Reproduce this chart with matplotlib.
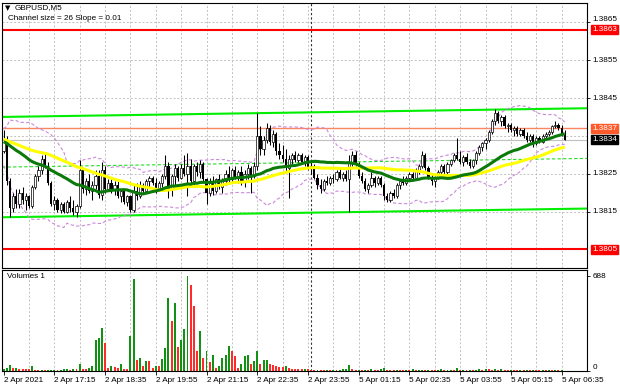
import numpy as np
import pandas as pd
import matplotlib
matplotlib.use("Agg")
import matplotlib.pyplot as plt
from matplotlib.transforms import blended_transform_factory, ScaledTranslation

# ---------------- data (prices in pips above BASE) ----------------
BASE = 1.3800
PIP = 0.0001

prior_closes = [34, 35, 36, 35, 34, 35, 36, 35, 34, 35, 36, 37, 36, 35, 34, 35, 36, 35, 34, 33, 34,
                35, 36, 37, 36, 35, 36, 37, 38, 37, 36, 35, 36, 37, 36, 35,
                31, 30, 29, 30, 31, 32, 31, 30, 29, 30, 31, 32, 31, 30.5]

opens = [31, 34, 23, 16, 19, 17, 20, 18, 19, 16.5, 21.5, 24.5, 26, 29, 27, 22.5, 17, 18, 15.5, 17,
         15, 17.5, 16, 15, 16.5, 26, 21, 23, 20.5, 22, 24.5, 19.5, 26, 21, 22.5, 21, 22, 19, 20.5, 17.5,
         19, 15.5, 20.5, 19, 22, 20.5, 23, 24, 22.5, 21, 22.5, 24.5, 27, 21, 24.5, 26.5, 24, 26.5, 25, 27,
         23, 27, 25.5, 27.5, 23.5, 20, 22.5, 20.5, 23.5, 21.5, 23, 25, 23.5, 26, 24, 25.5, 23, 25, 26.5, 24.5,
         27, 35, 31.5, 34, 37, 33.5, 35.5, 31, 30, 29, 26.5, 29, 30, 28.5, 30, 28, 29.5, 26.5, 27, 24,
         22, 21, 23, 22.5, 24, 23.5, 25.5, 24, 25, 23.5, 28, 30, 27.5, 24.5, 23, 21, 22, 24, 22.5, 24,
         22, 19, 18, 20, 19, 22, 23, 22.5, 24, 25, 24, 26, 27, 30, 26.5, 24, 23, 24, 25.5, 27,
         25.5, 27.5, 28.5, 30, 29, 28, 29.5, 28, 27, 28.5, 30.5, 32, 33, 34, 36, 39, 41, 39, 40, 37.5,
         38, 36.5, 37, 35.5, 36.5, 35, 34, 35, 33, 34.5, 33.5, 35, 35.5, 36, 37.5, 38, 37, 35.5]
highs = [36.5, 35, 24, 20, 21, 21, 21.5, 20, 19.5, 22, 25, 27, 30, 30.5, 28, 23, 19, 18.5, 17.5, 17.5,
         18, 19, 18, 17, 28.5, 26.5, 24, 25, 23, 26, 26, 28, 27, 23.5, 24, 23, 23, 21, 21, 19.5,
         19.5, 22, 22.5, 23, 22.5, 23.5, 24.5, 24.5, 24, 23, 25, 30, 28, 25, 27.5, 27, 27.5, 30, 30.5, 29,
         27.5, 28, 28.5, 28, 24, 24, 24.5, 24, 25, 24, 26, 27, 26.5, 27, 26, 27, 26, 27.5, 27, 28,
         41, 37.5, 35, 38.5, 38, 36.5, 36, 33, 32.5, 31.5, 30, 30.5, 31, 30.5, 30.5, 30, 30, 28, 27.5, 25,
         23.5, 23.5, 24.5, 24.5, 25, 26, 26.5, 25.5, 26, 30, 31, 31, 28, 25.5, 24, 22.5, 25.5, 24.5, 24.5, 24.5,
         22.5, 20, 20.5, 21, 22.5, 23.5, 24.5, 24.5, 25.5, 25.5, 26.5, 27.5, 31, 30.5, 27, 25, 24.5, 26, 27.5, 27.5,
         28, 29, 30.5, 34.5, 31, 30, 30.5, 29, 29, 31, 32.5, 33.5, 34.5, 36.5, 39.5, 42, 41.5, 40.5, 40.5, 38.5,
         38.5, 37.5, 37.5, 37, 37, 36, 35.5, 35.5, 35, 35, 35.5, 36, 36.5, 38, 39, 38.5, 38, 36.5]
lows = [30.5, 22, 13.5, 15, 16, 16, 17, 15.5, 16, 16, 21, 23, 25, 26.5, 22, 16.5, 15.5, 15, 14.5, 14.5,
        14.5, 15, 14, 13.5, 16, 20, 19.5, 20, 18, 21, 18.5, 18, 20, 20.5, 20, 19.5, 18.5, 17.5, 17, 16.5,
        15, 15, 18, 18.5, 20, 20, 21.5, 22, 20, 20.5, 21.5, 23.5, 18.5, 19, 22, 23, 23.5, 24.5, 19, 22,
        21.5, 24.5, 24, 23, 17, 19, 19.5, 20, 21, 20, 22, 22.5, 22.5, 23.5, 22.5, 22, 21.5, 23.5, 20, 24,
        26, 30, 30, 33, 32.5, 32, 30, 29, 28, 25.5, 18.5, 27.5, 28, 28, 27.5, 27, 26, 25, 23.5, 21,
        20, 20.5, 22, 22, 22.5, 23, 23.5, 23, 23, 15, 27, 27, 24, 22.5, 20.5, 20, 21.5, 21.5, 22, 21.5,
        18, 17.5, 17.5, 18.5, 18.5, 21, 22, 22, 23, 23.5, 23.5, 25, 26.5, 26, 23.5, 22, 21.5, 23.5, 25, 25,
        25, 27, 28, 28.5, 27.5, 27, 27.5, 26.5, 26.5, 27.5, 30, 31, 31.5, 33.5, 35.5, 38, 38.5, 37.5, 37, 36,
        36, 35, 35, 35, 34.5, 33.5, 33.5, 32, 32.5, 33, 33, 34.5, 35, 35.5, 37, 36.5, 35, 34]
closes = [34, 23, 16, 19, 17, 20, 18, 19, 16.5, 21.5, 24.5, 26, 29, 27, 22.5, 17, 18, 15.5, 17, 15,
          17.5, 16, 15, 16.5, 26, 21, 23, 20.5, 22, 24.5, 19.5, 26, 21, 22.5, 21, 22, 19, 20.5, 17.5, 19,
          15.5, 20.5, 19, 22, 20.5, 23, 24, 22.5, 21, 22.5, 24.5, 27, 21, 24.5, 26.5, 24, 26.5, 25, 27, 23,
          27, 25.5, 27.5, 23.5, 20, 22.5, 20.5, 23.5, 21.5, 23, 25, 23.5, 26, 24, 25.5, 23, 25, 26.5, 24.5, 27,
          35, 31.5, 34, 37, 33.5, 35.5, 31, 30, 29, 26.5, 29, 30, 28.5, 30, 28, 29.5, 26.5, 27, 24, 22,
          21, 23, 22.5, 24, 23.5, 25.5, 24, 25, 23.5, 28, 30, 27.5, 24.5, 23, 21, 22, 24, 22.5, 24, 22,
          19, 18, 20, 19, 22, 23, 22.5, 24, 25, 24, 26, 27, 30, 26.5, 24, 23, 24, 25.5, 27, 25.5,
          27.5, 28.5, 30, 29, 28, 29.5, 28, 27, 28.5, 30.5, 32, 33, 34, 36, 39, 41, 39, 40, 37.5, 38,
          36.5, 37, 35.5, 36.5, 35, 34, 35, 33, 34.5, 33.5, 35, 35.5, 36, 37.5, 38, 37, 35.5, 34]

volumes = [15, 24, 41, 19, 24, 12, 12, 12, 12, 34,
           10, 8, 9, 7, 8, 9, 10, 8, 10, 11,
           12, 9, 17, 12, 48, 17, 12, 24, 39, 222,
           241, 309, 203, 24, 34, 29, 22, 53, 17, 14,
           253, 664, 82, 94, 36, 70, 70, 19, 36, 36,
           87, 164, 526, 360, 492, 174, 222, 307, 688, 625,
           468, 145, 290, 94, 142, 63, 113, 24, 39, 94,
           118, 183, 142, 109, 22, 48, 109, 113, 48, 70,
           147, 53, 77, 82, 48, 46, 34, 29, 29, 34,
           22, 12, 12, 12, 12, 17, 17,
           8, 6, 10, 7, 5, 9, 6, 8, 7, 10, 12, 15,
           41,
           12, 8, 10, 6, 9, 7,
           15,
           10, 8, 12,
           20,
           9, 7, 6, 10, 8, 5, 9, 7, 11, 6, 8, 9, 7, 10, 8, 6, 9, 12, 7, 8, 10, 9,
           22,
           8, 10, 7, 9, 6, 8, 12, 10,
           14,
           12, 10, 13, 9, 11, 8, 7, 10, 9, 6, 8, 7, 9, 6, 8, 7, 5, 8, 6, 7, 5, 6, 4, 5, 3]

tick_bars = [0, 16, 32, 48, 64, 80, 96, 112, 128, 144, 160, 176]
tick_labels = ["2 Apr 2021", "2 Apr 17:15", "2 Apr 18:35", "2 Apr 19:55", "2 Apr 21:15",
               "2 Apr 22:35", "2 Apr 23:55", "5 Apr 01:15", "5 Apr 02:35", "5 Apr 03:55",
               "5 Apr 05:15", "5 Apr 06:35"]
grid_every = 8
day_separator_bar = 97
price_tick_values = [1.3865, 1.3855, 1.3845, 1.3825, 1.3815]
price_grid_values = [1.3805, 1.3815, 1.3825, 1.3835, 1.3845, 1.3855, 1.3865]
red_levels = [1.3863, 1.3805]
orange_level = 1.3837
bid_level = 1.3834
channel_x = [-0.5, 184]
channel_upper = [1.38400, 1.38423]
channel_lower = [1.38135, 1.38158]
volume_max_label = 688
title_text = "GBPUSD,M5"
channel_text = "Channel size = 26 Slope = 0.01"

# ---------------- derived series ----------------
n = len(closes)
x = np.arange(n)
o = np.array(opens) * PIP + BASE
h = np.array(highs) * PIP + BASE
l = np.array(lows) * PIP + BASE
c = np.array(closes) * PIP + BASE
allc = pd.Series(np.array(prior_closes + closes) * PIP + BASE)
npre = len(prior_closes)
ma_fast = allc.rolling(30).mean().to_numpy()[npre:]
ma_slow = allc.rolling(50).mean().to_numpy()[npre:]
bb_mid = allc.rolling(20).mean()
bb_sd = allc.rolling(20).std(ddof=0)
bb_up = (bb_mid + 2 * bb_sd).to_numpy()[npre:]
bb_dn = (bb_mid - 2 * bb_sd).to_numpy()[npre:]
vol = np.array(volumes)
vol_up = np.concatenate([[True], vol[1:] > vol[:-1]])
channel_mid = [(a + b) / 2 for a, b in zip(channel_upper, channel_lower)]

# ---------------- figure ----------------
FONT = ['Liberation Sans', 'DejaVu Sans']
plt.rcParams['font.family'] = FONT
FS = 5.9
W, H = 620, 388
fig = plt.figure(figsize=(W / 100, H / 100), dpi=100)
fig.patch.set_facecolor('white')

L, R = 2, 587
ax = fig.add_axes([L / W, 1 - 268 / H, (R - L) / W, 265 / H])
axv = fig.add_axes([L / W, 1 - 371 / H, (R - L) / W, 101 / H], sharex=ax)

xmin = -0.5
xmax = 184.0
ax.set_xlim(xmin, xmax)
ax.set_ylim(1.38001, 1.38701)
axv.set_ylim(0, 731)

grid_kw = dict(color='#c0c0c0', lw=0.7, linestyle=(0, (2, 2)), zorder=0.5)
for gb in range(grid_every, int(xmax) + 1, grid_every):
    ax.axvline(gb, **grid_kw)
    axv.axvline(gb, **grid_kw)
for gp in price_grid_values:
    ax.axhline(gp, **grid_kw)
for a in (ax, axv):
    a.axvline(day_separator_bar, color='#303030', lw=0.8, linestyle=(0, (2, 2)), zorder=0.6)

# horizontal levels
for rl in red_levels:
    ax.axhline(rl, color='#ff0000', lw=1.5, zorder=2)
ax.axhline(orange_level, color='#f98561', lw=1.0, zorder=1.5)
ax.axhline(bid_level, color='#c0c0c0', lw=0.8, zorder=1.4)

# channel
ax.plot(channel_x, channel_upper, color='#00ee00', lw=1.5, zorder=2)
ax.plot(channel_x, channel_lower, color='#00ee00', lw=1.5, zorder=2)
ax.plot(channel_x, channel_mid, color='#22dd22', lw=0.8, linestyle=(0, (3, 2)), zorder=2)

# bollinger
ax.plot(x, bb_up, color='#cc88dd', lw=0.8, linestyle=(0, (3, 2)), zorder=2.5)
ax.plot(x, bb_dn, color='#cc88dd', lw=0.8, linestyle=(0, (3, 2)), zorder=2.5)

# candles
up = c >= o
ax.vlines(x, l, h, color='black', lw=0.75, zorder=3)
ax.bar(x[up], (c - o)[up], bottom=o[up], width=0.7, facecolor='white',
       edgecolor='black', lw=0.5, zorder=3.5)
ax.bar(x[~up], (o - c)[~up], bottom=c[~up], width=0.7, color='black', lw=0, zorder=3.5)

# moving averages
ax.plot(x, ma_slow, color='#ffff00', lw=2.2, zorder=4, solid_capstyle='butt')
ax.plot(x, ma_fast, color='#0b7a0b', lw=2.2, zorder=4.2, solid_capstyle='butt')

# volumes
axv.bar(x, vol, width=0.62, color=np.where(vol_up, '#129212', '#ff2a2a'), lw=0, zorder=2)

# axes styling
for a in (ax, axv):
    a.set_facecolor('white')
    for sp in a.spines.values():
        sp.set_color('black')
        sp.set_linewidth(0.8)
    a.yaxis.tick_right()
    a.tick_params(axis='y', direction='out', length=2.5, width=0.6, pad=1.5,
                  labelsize=FS, colors='black')

trans = blended_transform_factory(ax.transAxes, ax.transData)
ax.set_yticks(price_tick_values)
ax.set_yticklabels([])
for v in price_tick_values:
    t = trans
    if v == max(price_tick_values):
        t = trans + ScaledTranslation(0, 2 / 72, fig.dpi_scale_trans)
    ax.text(1.0 + 5 / (R - L), v, f"{v:.4f}", transform=t, ha='left', va='center',
            fontsize=FS, color='black', clip_on=False)
ax.tick_params(axis='x', bottom=False, labelbottom=False)

axv.set_yticks([0, volume_max_label])
axv.set_yticklabels(["0", str(volume_max_label)])
axv.get_yticklabels()[0].set_va('bottom')

axv.set_xticks(tick_bars)
axv.set_xticklabels(tick_labels, ha='left')
axv.tick_params(axis='x', direction='out', length=3, width=0.6, pad=1.5,
                labelsize=FS, colors='black')

# price boxes on the right scale
def box_label(price, bg):
    ax.text(1.0 + 5 / (R - L), price, f"{price:.4f}", transform=trans, ha='left', va='center',
            fontsize=FS, color='white', zorder=10, clip_on=False,
            bbox=dict(boxstyle='square,pad=0.12', fc=bg, ec=bg))
box_label(red_levels[0], '#ff0000')
box_label(red_levels[1], '#ff0000')
box_label(orange_level, '#ff5a2a')
box_label(bid_level, '#000000')

# header texts
fig.text(5 / W, 1 - 8 / H, "\u25BC", fontsize=5, va='center', ha='left', family=['DejaVu Sans'])
fig.text(15 / W, 1 - 8 / H, title_text, fontsize=FS, va='center', ha='left')
fig.text(8 / W, 1 - 19 / H, channel_text, fontsize=FS, va='center', ha='left')
fig.text(7 / W, 1 - 277 / H, "Volumes 1", fontsize=FS, va='center', ha='left')

fig.savefig("out.png", dpi=100, facecolor='white')
